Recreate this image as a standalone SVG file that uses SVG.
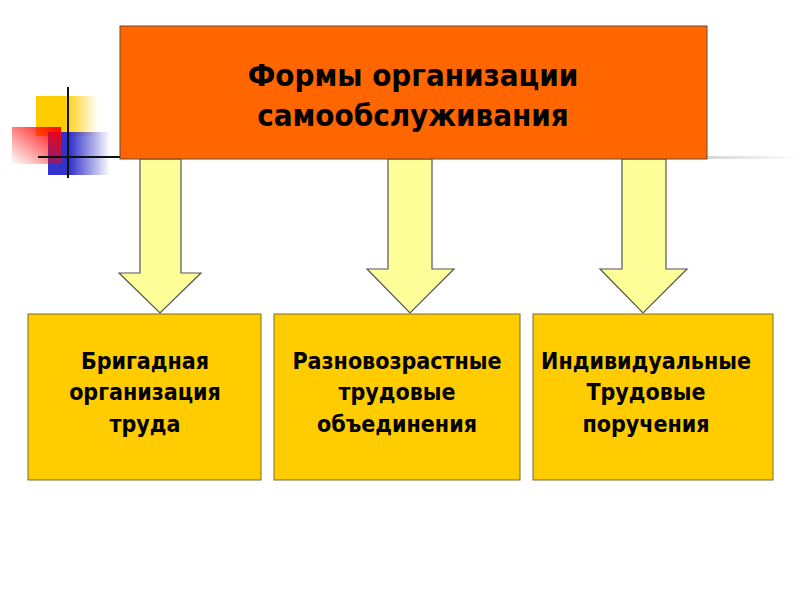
<svg xmlns="http://www.w3.org/2000/svg" width="800" height="600" viewBox="0 0 800 600">
<defs>
<linearGradient id="gy" x1="0" y1="0" x2="1" y2="0"><stop offset="0" stop-color="#FFCC00"/><stop offset="0.45" stop-color="#FFCC00"/><stop offset="1" stop-color="#FFCC00" stop-opacity="0"/></linearGradient>
<linearGradient id="gr" x1="1" y1="0" x2="0" y2="1"><stop offset="0" stop-color="#FF0000"/><stop offset="1" stop-color="#FF0000" stop-opacity="0"/></linearGradient>
<linearGradient id="gb" x1="0" y1="0" x2="1" y2="0"><stop offset="0" stop-color="#3333CC"/><stop offset="0.35" stop-color="#3333CC"/><stop offset="1" stop-color="#3333CC" stop-opacity="0"/></linearGradient>
<linearGradient id="gl" x1="0" y1="0" x2="1" y2="0"><stop offset="0" stop-color="#999"/><stop offset="1" stop-color="#999" stop-opacity="0"/></linearGradient>
<style>
.t{font-family:"Liberation Sans Narrow","DejaVu Sans Condensed","Liberation Sans",sans-serif;font-weight:bold;fill:#000;text-anchor:middle}
.title{font-size:31px}
.lbl{font-size:23px}
.box{fill:#FFCC00;stroke:#7a6a30;stroke-width:1}
.arrow{fill:#FFFF99;stroke:#555;stroke-width:1.2;stroke-linejoin:miter}
</style>
</defs>
<rect width="800" height="600" fill="#fff"/>
<g id="decor">
<rect x="36" y="96" width="62" height="40" fill="url(#gy)"/>
<rect x="48" y="132" width="62" height="43" fill="url(#gb)"/>
<rect x="12" y="127" width="49" height="37" fill="url(#gr)"/>
<line x1="68" y1="87" x2="68" y2="178" stroke="#111" stroke-width="2"/>
<line x1="38" y1="157" x2="120" y2="157" stroke="#111" stroke-width="2"/>
<rect x="707" y="156" width="93" height="3" fill="url(#gl)" opacity="0.4"/>
</g>
<g id="connectors">
<path class="arrow" d="M140,159 V273 H119 L160,313 L201,273 H181 V159 Z"/>
<path class="arrow" d="M388,159 V269 H367 L410,313 L454,269 H432 V159 Z"/>
<path class="arrow" d="M622,159 V269 H600 L643,313 L687,269 H666 V159 Z"/>
</g>
<g id="top">
<rect x="120" y="26" width="587" height="133" fill="#FF6600" stroke="#6b4a2a" stroke-width="1"/>
<text class="t title" x="413" y="86">Формы организации</text>
<text class="t title" x="413" y="126">самообслуживания</text>
</g>
<g id="box1">
<rect class="box" x="28" y="314" width="233" height="166"/>
<text class="t lbl" x="145" y="369">Бригадная</text>
<text class="t lbl" x="145" y="400">организация</text>
<text class="t lbl" x="145" y="432">труда</text>
</g>
<g id="box2">
<rect class="box" x="274" y="314" width="246" height="166"/>
<text class="t lbl" x="397" y="369">Разновозрастные</text>
<text class="t lbl" x="397" y="400">трудовые</text>
<text class="t lbl" x="397" y="432">объединения</text>
</g>
<g id="box3">
<rect class="box" x="533" y="314" width="240" height="166"/>
<text class="t lbl" x="646" y="369">Индивидуальные</text>
<text class="t lbl" x="646" y="400">Трудовые</text>
<text class="t lbl" x="646" y="432">поручения</text>
</g>
</svg>
